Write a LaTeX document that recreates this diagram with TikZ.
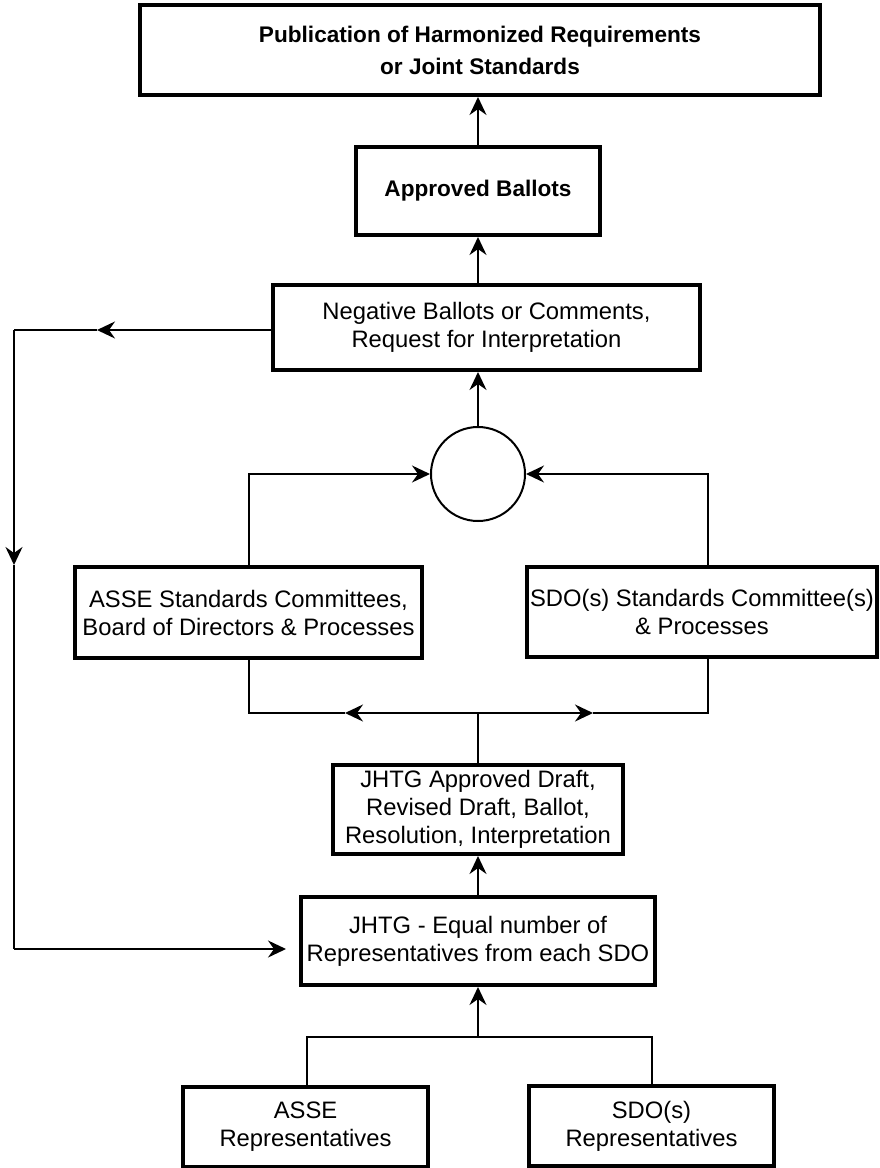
\documentclass[tikz,border=0pt]{standalone}
\usepackage{fontspec}
\setmainfont{Liberation Sans}
\usetikzlibrary{arrows.meta}
\newcommand{\regf}{\fontsize{23.8}{28}\selectfont}
\newcommand{\boldf}{\fontsize{22.6}{32}\selectfont\bfseries}
\begin{document}
\begin{tikzpicture}[x=1pt,y=-1pt,
  box/.style={draw, line width=4pt, align=center, inner sep=0pt, font=\regf},
  bbox/.style={box, font=\boldf},
  circ/.style={draw, circle, line width=2pt, minimum size=94pt, inner sep=0pt},
  conn/.style={line width=2pt},
  arr/.style={conn, -{Stealth[length=18pt,width=17pt,inset=6pt]}}]
\fill[white] (0,0) rectangle (879,1168);
\useasboundingbox (0,0) rectangle (879,1168);

\node[bbox, minimum width=680pt, minimum height=90pt] (pub) at (480,50) {Publication of Harmonized Requirements\\or Joint Standards};
\node[bbox, minimum width=244pt, minimum height=88pt] (appr) at (478,191) {Approved Ballots};
\node[box, minimum width=427pt, minimum height=85pt] (neg) at (486.5,327.5) {Negative Ballots or Comments,\\Request for Interpretation};
\node[circ] (c) at (478,474) {};
\node[box, minimum width=347pt, minimum height=91pt] (asse) at (248.5,612.5) {ASSE Standards Committees,\\Board of Directors \& Processes};
\node[box, minimum width=350pt, minimum height=90pt] (sdo) at (702,612) {SDO(s) Standards Committee(s)\\\& Processes};
\node[box, minimum width=290pt, minimum height=89pt] (jappr) at (478,809.5) {JHTG Approved Draft,\\Revised Draft, Ballot,\\Resolution, Interpretation};
\node[box, minimum width=354pt, minimum height=88pt] (jeq) at (478,941) {JHTG - Equal number of\\Representatives from each SDO};
\node[box, minimum width=245pt, minimum height=80pt] (arep) at (305.5,1126.5) {ASSE\\Representatives};
\node[box, minimum width=245pt, minimum height=80pt] (srep) at (651.5,1126) {SDO(s)\\Representatives};

% upward chain
\draw[arr] (appr.north) -- (appr.north |- pub.south);
\draw[arr] (appr.south |- neg.north) -- (appr.south);
\draw[arr] (c.north) -- (c.north |- neg.south);

% committees to circle
\coordinate (ul) at (248.5,474);
\coordinate (ur) at (708,474);
\draw[arr] (asse.north) -- (ul) -- (c.west);
\draw[arr] (sdo.north -| ur) -- (ur) -- (c.east);

% bracket below committees
\coordinate (bm) at (478,713);
\coordinate (bl) at (248.5,713);
\coordinate (br) at (708,713);
\coordinate (tl) at (345,713);
\coordinate (tr) at (593,713);
\draw[conn] (jappr.north) -- (bm);
\draw[arr] (bm) -- (tl);
\draw[conn] (tl) -- (bl) -- (asse.south);
\draw[arr] (bm) -- (tr);
\draw[conn] (tr) -- (br) -- (br |- sdo.south);

\draw[arr] (jeq.north) -- (jappr.south);

% bracket above representatives
\coordinate (lb) at (307,1037);
\coordinate (rb) at (652,1037);
\coordinate (mb) at (478,1037);
\draw[conn] (lb |- arep.north) -- (lb) -- (rb) -- (rb |- srep.north);
\draw[arr] (mb) -- (jeq.south);

% feedback loop
\coordinate (f1) at (14,330);
\coordinate (fa) at (97,330);
\coordinate (f2) at (14,565);
\coordinate (f3) at (14,949);
\draw[arr] (f1 -| neg.west) -- (fa);
\draw[conn] (fa) -- (f1);
\draw[arr] (f1) -- (f2);
\draw[conn] (f2) -- (f3);
\draw[arr, shorten >=13pt] (f3) -- (f3 -| jeq.west);
\end{tikzpicture}
\end{document}
